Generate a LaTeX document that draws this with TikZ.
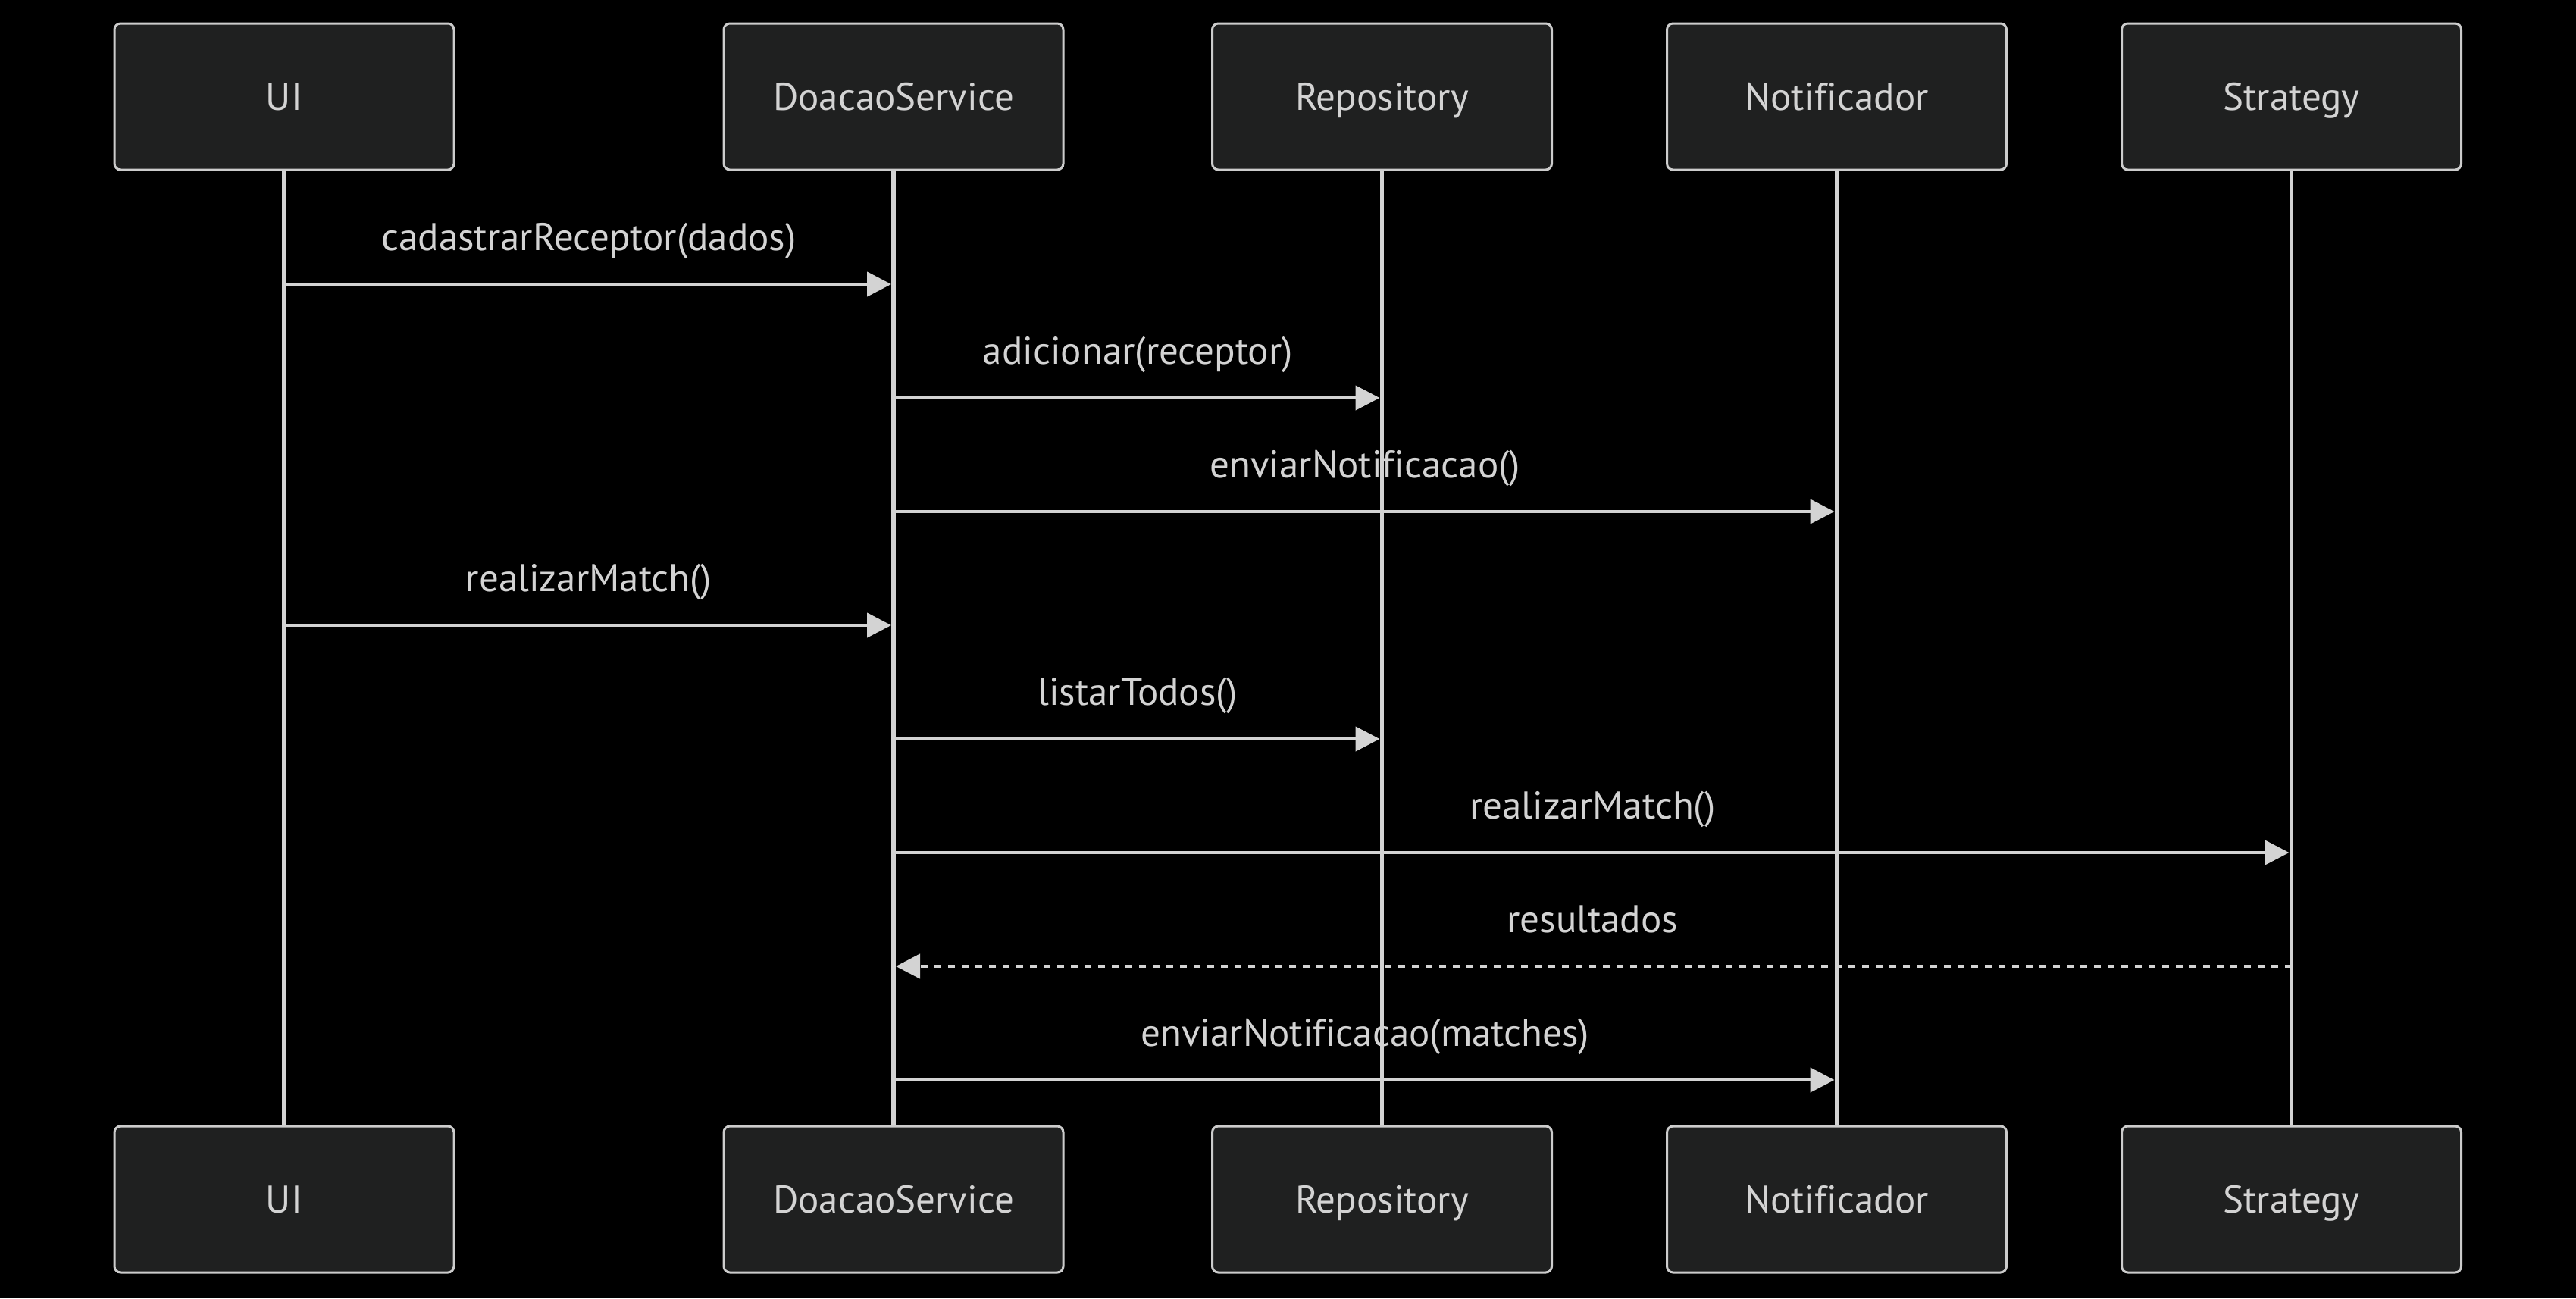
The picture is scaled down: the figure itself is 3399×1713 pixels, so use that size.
\documentclass[tikz,border=0pt]{standalone}
\usepackage{fontspec}
\setmainfont[Ligatures=CommonOff]{PT Sans}
\usetikzlibrary{arrows.meta,calc}
\definecolor{boxfill}{HTML}{1F2020}
\definecolor{boxline}{HTML}{CCCCCC}
\definecolor{ink}{HTML}{D3D3D3}
\begin{document}
\begin{tikzpicture}[x=1pt,y=-1pt,
  font=\fontsize{51}{60}\selectfont,
  actor/.style={draw=boxline, fill=boxfill, line width=3pt, rounded corners=8pt,
    minimum width=448pt, minimum height=193pt, text=ink, text height=35pt, text depth=0pt, inner sep=0pt},
  life/.style={draw=ink, line width=5.5pt},
  msg/.style={draw=ink, line width=4.5pt, -{Triangle[length=32pt,width=32pt]}},
  reply/.style={msg, dash pattern=on 9pt off 9pt},
  lbl/.style={text=ink, anchor=base, inner sep=0pt}]
\fill[black] (0,0) rectangle (3399,1713);
\useasboundingbox (0,0) rectangle (3399,1713);

% top actors
\node[actor] (ui)  at (375,127.5) {UI};
\node[actor] (ds)  at (1179,127.5) {DoacaoService};
\node[actor] (rep) at (1823.5,127.5) {Repository};
\node[actor] (nt)  at (2423.5,127.5) {Notificador};
\node[actor] (st)  at (3023.5,127.5) {Strategy};
% bottom actors
\node[actor] (uib)  at (375,1582.5) {UI};
\node[actor] (dsb)  at (1179,1582.5) {DoacaoService};
\node[actor] (repb) at (1823.5,1582.5) {Repository};
\node[actor] (ntb)  at (2423.5,1582.5) {Notificador};
\node[actor] (stb)  at (3023.5,1582.5) {Strategy};

% message rows
\coordinate (m1) at (0,375);
\coordinate (m2) at (0,525);
\coordinate (m3) at (0,675);
\coordinate (m4) at (0,825);
\coordinate (m5) at (0,975);
\coordinate (m6) at (0,1125);
\coordinate (m7) at (0,1275);
\coordinate (m8) at (0,1425);

% messages
\draw[msg] (ui.south |- m1) -- ([xshift=-3pt]ds.south |- m1);
\node[lbl] (l1) at ([yshift=45pt]$(ui.south |- m1)!0.5!(ds.south |- m1)$) {cadastrarReceptor(dados)};
\draw[msg] (ds.south |- m2) -- ([xshift=-3pt]rep.south |- m2);
\node[lbl] (l2) at ([yshift=45pt]$(ds.south |- m2)!0.5!(rep.south |- m2)$) {adicionar(receptor)};
\draw[msg] (ds.south |- m3) -- ([xshift=-3pt]nt.south |- m3);
\node[lbl] (l3) at ([yshift=45pt]$(ds.south |- m3)!0.5!(nt.south |- m3)$) {enviarNotificacao()};
\draw[msg] (ui.south |- m4) -- ([xshift=-3pt]ds.south |- m4);
\node[lbl] (l4) at ([yshift=45pt]$(ui.south |- m4)!0.5!(ds.south |- m4)$) {realizarMatch()};
\draw[msg] (ds.south |- m5) -- ([xshift=-3pt]rep.south |- m5);
\node[lbl] (l5) at ([yshift=45pt]$(ds.south |- m5)!0.5!(rep.south |- m5)$) {listarTodos()};
\draw[msg] (ds.south |- m6) -- ([xshift=-3pt]st.south |- m6);
\node[lbl] (l6) at ([yshift=45pt]$(ds.south |- m6)!0.5!(st.south |- m6)$) {realizarMatch()};
\draw[reply] (st.south |- m7) -- ([xshift=3pt]ds.south |- m7);
\node[lbl] (l7) at ([yshift=45pt]$(ds.south |- m7)!0.5!(st.south |- m7)$) {resultados};
\draw[msg] (ds.south |- m8) -- ([xshift=-3pt]nt.south |- m8);
\node[lbl] (l8) at ([yshift=45pt]$(ds.south |- m8)!0.5!(nt.south |- m8)$) {enviarNotificacao(matches)};

% lifelines
\draw[life] (ui.south) -- (uib.north);
\draw[life] (ds.south) -- (dsb.north);
\draw[life] (rep.south) -- (repb.north);
\draw[life] (nt.south) -- (ntb.north);
\draw[life] (st.south) -- (stb.north);
\end{tikzpicture}
\end{document}
